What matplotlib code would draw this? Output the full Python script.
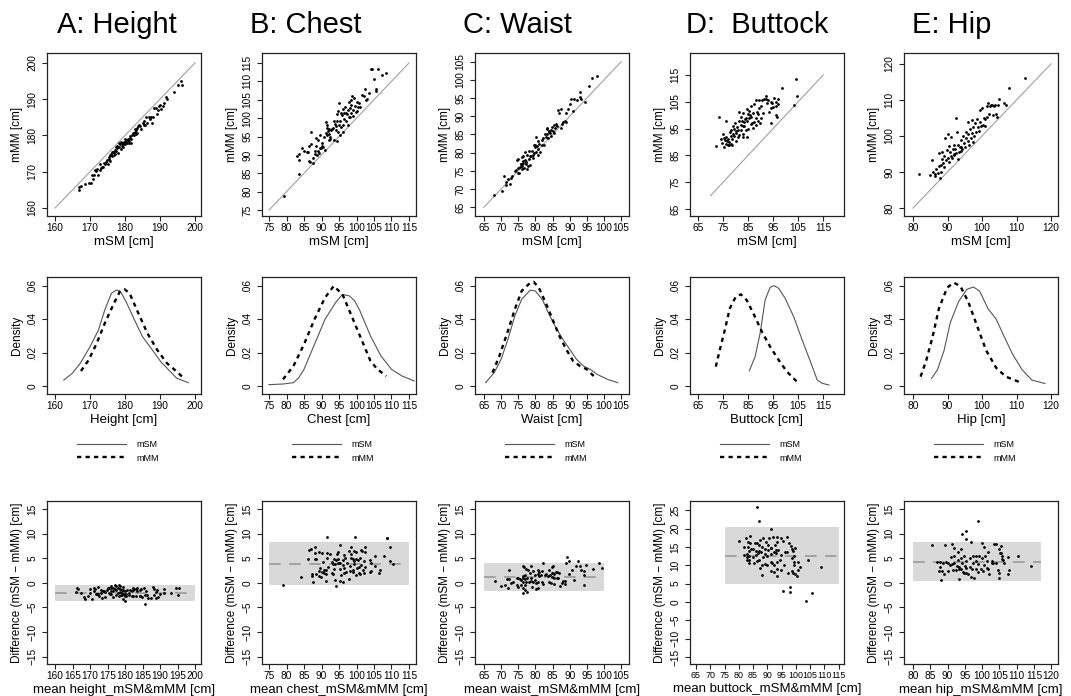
import matplotlib
matplotlib.use("Agg")
import matplotlib.pyplot as plt
import numpy as np

plt.rcParams['font.family'] = ['Liberation Sans', 'DejaVu Sans']

# column titles and measure names
titles = ['A: Height', 'B: Chest', 'C: Waist', 'D:  Buttock', 'E: Hip']
measures = ['Height', 'Chest', 'Waist', 'Buttock', 'Hip']

# scatter points (mSM, mMM)
height_points = np.array([
    (166.7, 165.7), (166.8, 165.0), (167.3, 166.0), (168.5, 166.5), (169.8, 167.0), (170.2, 167.0),
    (170.5, 169.2), (170.7, 168.0), (171.0, 169.0), (171.5, 170.5), (171.8, 170.2), (172.0, 170.7),
    (172.3, 169.0), (172.7, 170.5), (172.8, 172.0), (173.2, 171.0), (173.5, 171.3), (173.8, 171.2),
    (174.0, 172.5), (174.3, 172.2), (174.5, 172.8), (174.8, 173.2), (175.0, 172.0), (175.3, 173.5),
    (175.5, 174.0), (175.7, 174.6), (175.8, 173.0), (176.0, 175.0), (176.2, 175.5), (176.3, 174.3),
    (176.5, 175.5), (176.8, 174.5), (176.9, 175.3), (177.0, 176.0), (177.2, 175.0), (177.3, 176.8),
    (177.5, 175.8), (177.6, 177.0), (177.8, 176.5), (178.0, 175.2), (178.2, 176.8), (178.4, 177.9),
    (178.5, 177.5), (178.7, 176.2), (178.9, 178.2), (179.0, 177.0), (179.2, 178.0), (179.4, 177.6),
    (179.5, 176.8), (179.7, 178.3), (179.9, 179.0), (180.0, 177.5), (180.2, 178.8), (180.3, 178.2),
    (180.5, 178.0), (180.7, 179.0), (180.8, 178.6), (181.0, 177.8), (181.2, 178.5), (181.3, 179.8),
    (181.5, 179.3), (181.6, 178.9), (181.8, 178.0), (182.0, 180.0), (182.3, 180.8), (182.5, 180.0),
    (182.7, 181.0), (182.8, 181.8), (183.0, 181.5), (183.2, 180.5), (183.3, 182.0), (183.5, 180.8),
    (183.8, 182.5), (184.0, 183.0), (184.2, 182.6), (184.5, 181.8), (185.0, 183.5), (185.3, 184.0),
    (185.5, 182.8), (185.7, 183.0), (186.0, 185.0), (186.3, 183.5), (186.8, 185.2), (187.0, 184.5),
    (187.5, 185.0), (187.8, 183.5), (188.0, 185.0), (188.3, 187.5), (188.8, 187.5), (189.0, 186.0),
    (189.5, 187.0), (189.8, 188.0), (190.0, 188.5), (190.3, 187.3), (190.8, 188.0), (191.2, 189.0),
    (191.8, 190.5), (192.0, 190.0), (194.0, 192.0), (195.0, 194.0), (196.0, 195.0), (196.3, 193.8),
])

chest_points = np.array([
    (79.2, 78.8), (83.0, 89.7), (83.5, 90.3), (83.7, 88.5), (83.5, 84.7), (84.5, 91.8), (85.0, 91.0),
    (85.8, 90.7), (86.0, 90.8), (86.3, 92.5), (86.5, 88.3), (86.7, 88.0), (87.0, 96.2), (87.0, 93.0),
    (87.5, 87.7), (87.5, 89.2), (88.0, 91.0), (88.0, 90.3), (88.3, 92.5), (88.5, 94.5), (88.7, 90.0),
    (89.0, 91.2), (89.0, 94.0), (89.3, 90.5), (89.5, 92.0), (89.6, 95.5), (89.8, 91.8), (90.0, 92.5),
    (90.2, 93.3), (90.5, 92.2), (90.8, 95.0), (91.0, 91.3), (91.2, 96.0), (91.3, 99.0), (91.5, 97.3),
    (91.5, 95.3), (91.7, 98.0), (91.8, 96.5), (92.0, 94.0), (92.0, 95.8), (92.2, 97.0), (92.3, 95.0),
    (92.5, 94.2), (92.8, 96.8), (93.0, 97.0), (93.3, 97.3), (93.5, 94.0), (93.7, 99.3), (93.8, 98.5),
    (94.0, 96.8), (94.2, 97.8), (94.3, 99.3), (94.5, 101.0), (94.5, 93.8), (94.7, 96.3), (94.8, 102.0),
    (95.0, 98.0), (95.0, 104.2), (95.2, 95.5), (95.3, 99.3), (95.5, 97.5), (95.6, 101.5), (95.8, 100.8),
    (96.0, 102.5), (96.0, 98.2), (96.2, 96.3), (96.3, 99.8), (96.5, 101.3), (96.8, 103.0), (97.0, 99.3),
    (97.0, 101.5), (97.3, 101.2), (97.5, 102.3), (97.5, 98.2), (97.8, 100.3), (97.8, 104.5), (98.0, 100.2),
    (98.2, 102.8), (98.3, 104.8), (98.5, 101.5), (98.5, 103.5), (98.8, 106.0), (99.0, 102.2), (99.0, 100.5),
    (99.3, 105.5), (99.5, 103.2), (99.8, 101.8), (100.0, 104.5), (100.2, 102.0), (100.5, 103.0),
    (100.8, 104.0), (101.0, 103.0), (101.5, 106.2), (102.0, 106.0), (102.5, 108.0), (102.8, 105.0),
    (103.0, 105.3), (103.5, 106.8), (104.2, 113.3), (104.3, 113.3), (105.0, 110.5), (105.5, 108.0),
    (105.6, 107.5), (106.0, 113.3), (107.2, 111.7), (108.5, 112.3),
])

waist_points = np.array([
    (68.0, 68.3), (70.2, 69.5), (71.0, 73.5), (71.3, 72.0), (71.5, 71.0), (72.0, 72.8), (72.5, 71.5),
    (73.0, 73.0), (73.3, 73.5), (74.0, 75.0), (74.3, 75.3), (74.5, 78.0), (74.8, 74.3), (75.0, 78.2),
    (75.0, 75.8), (75.3, 74.5), (75.5, 76.0), (75.7, 77.0), (75.8, 76.8), (76.0, 75.5), (76.0, 78.8),
    (76.2, 76.3), (76.3, 77.8), (76.5, 77.3), (76.5, 79.0), (76.8, 75.8), (77.0, 80.3), (77.0, 78.0),
    (77.2, 76.8), (77.3, 77.5), (77.5, 75.5), (77.6, 79.5), (77.8, 76.3), (78.0, 78.2), (78.2, 80.5),
    (78.3, 79.2), (78.5, 76.7), (78.7, 79.0), (79.0, 80.5), (79.2, 79.3), (79.3, 78.5), (79.5, 82.0),
    (79.5, 80.0), (79.8, 81.5), (80.0, 82.2), (80.2, 84.3), (80.3, 80.3), (80.5, 81.8), (80.7, 79.5),
    (80.8, 81.0), (80.9, 83.2), (81.0, 82.5), (81.3, 80.3), (81.8, 82.0), (82.0, 83.5), (82.3, 84.0),
    (82.5, 82.2), (82.7, 85.2), (83.0, 84.3), (83.3, 86.5), (83.5, 85.0), (83.5, 86.8), (83.8, 84.0),
    (83.9, 85.8), (84.0, 86.0), (84.3, 85.5), (84.5, 84.5), (84.6, 86.3), (84.8, 87.0), (85.0, 86.0),
    (85.3, 87.5), (85.5, 85.3), (85.8, 86.8), (86.0, 88.0), (86.2, 87.2), (86.5, 91.7), (87.0, 91.0),
    (87.5, 92.0), (87.5, 86.8), (87.8, 87.8), (88.0, 88.3), (88.5, 88.8), (88.8, 88.5), (89.0, 90.8),
    (89.5, 92.0), (90.0, 93.5), (90.3, 94.8), (91.0, 91.5), (91.3, 94.8), (92.0, 94.5), (93.0, 95.3),
    (93.0, 96.7), (93.3, 94.8), (94.5, 94.0), (95.5, 98.3), (96.5, 100.5), (98.0, 101.0),
])

buttock_points = np.array([
    (72.0, 88.5), (73.5, 99.3), (74.0, 91.3), (74.5, 89.5), (75.0, 93.0), (75.3, 91.5), (75.5, 88.3),
    (75.8, 90.8), (76.0, 92.0), (76.0, 98.0), (76.3, 89.3), (76.5, 90.5), (76.8, 89.0), (77.0, 91.3),
    (77.3, 88.8), (77.5, 90.0), (77.8, 93.8), (78.0, 89.3), (78.0, 92.3), (78.3, 94.3), (78.5, 89.0),
    (78.7, 91.0), (79.0, 93.0), (79.0, 96.0), (79.3, 94.8), (79.5, 92.3), (79.8, 97.2), (80.0, 94.0),
    (80.0, 90.5), (80.3, 93.5), (80.5, 95.5), (80.8, 92.0), (81.0, 94.5), (81.3, 101.3), (81.5, 97.8),
    (81.5, 92.8), (82.0, 99.5), (82.0, 96.5), (82.3, 94.5), (82.5, 98.0), (82.8, 95.8), (82.8, 92.0),
    (83.0, 93.0), (83.0, 100.8), (83.3, 97.5), (83.5, 96.0), (83.8, 98.5), (84.0, 94.3), (84.0, 98.8),
    (84.5, 91.8), (84.5, 102.3), (84.7, 97.8), (85.0, 100.5), (85.0, 95.0), (85.3, 101.5), (85.5, 99.0),
    (85.8, 100.0), (86.0, 96.8), (86.0, 103.5), (86.3, 99.5), (86.5, 97.0), (86.8, 101.0), (87.0, 95.3),
    (87.3, 104.0), (87.5, 97.5), (88.0, 105.8), (88.0, 99.0), (88.3, 96.5), (88.5, 101.3), (88.8, 100.3),
    (89.0, 98.0), (89.3, 102.8), (89.5, 105.5), (89.8, 97.0), (90.0, 103.5), (90.3, 99.0), (90.5, 105.8),
    (91.0, 101.0), (91.5, 106.0), (92.0, 106.0), (92.3, 107.0), (92.5, 104.5), (93.0, 105.5), (94.0, 97.1),
    (93.5, 101.3), (94.0, 105.0), (94.3, 102.8), (94.5, 104.5), (95.0, 103.0), (95.5, 106.3), (96.0, 103.5),
    (96.3, 105.0), (96.6, 99.4), (96.0, 100.0), (96.8, 106.2), (97.0, 104.0), (98.5, 110.0), (103.5, 103.8),
    (104.0, 113.5), (104.5, 107.0),
])

hip_points = np.array([
    (81.8, 89.5), (85.0, 89.2), (85.5, 93.2), (85.8, 90.0), (86.3, 89.5), (86.5, 88.8), (86.8, 90.8),
    (87.3, 89.7), (87.5, 91.7), (87.5, 95.3), (87.8, 88.3), (88.0, 92.0), (88.2, 90.0), (88.3, 93.5),
    (88.5, 95.5), (88.8, 92.5), (89.0, 94.5), (89.0, 91.3), (89.3, 99.3), (89.5, 93.3), (89.8, 96.0),
    (90.0, 100.5), (90.0, 94.0), (90.3, 92.8), (90.5, 97.3), (90.8, 95.5), (91.0, 94.3), (91.0, 99.8),
    (91.3, 93.8), (91.5, 96.5), (91.8, 95.0), (92.0, 97.5), (92.0, 94.8), (92.3, 96.3), (92.5, 105.0),
    (92.5, 95.3), (92.8, 101.0), (93.0, 93.7), (93.0, 97.5), (93.3, 95.5), (93.5, 96.8), (93.8, 95.8),
    (94.0, 99.0), (94.0, 97.0), (94.3, 96.3), (94.5, 100.0), (94.8, 98.0), (95.0, 96.8), (95.3, 99.3),
    (95.5, 101.0), (95.8, 98.5), (96.0, 104.0), (96.0, 100.5), (96.3, 97.5), (96.5, 102.0), (96.8, 99.5),
    (97.0, 104.3), (97.0, 100.8), (97.3, 98.3), (97.5, 102.5), (97.8, 100.0), (98.0, 103.5), (98.3, 101.0),
    (98.5, 104.8), (98.8, 102.5), (99.0, 101.3), (99.3, 103.8), (99.5, 107.3), (99.8, 102.8), (100.0, 107.8),
    (100.3, 103.0), (100.5, 105.0), (100.8, 104.8), (101.0, 102.8), (101.3, 105.3), (101.5, 108.3),
    (101.8, 109.2), (102.0, 106.0), (102.3, 108.3), (102.5, 108.5), (103.0, 108.5), (103.3, 105.8),
    (103.5, 108.3), (103.8, 108.5), (104.0, 106.0), (104.3, 105.3), (104.5, 108.5), (105.0, 110.2),
    (106.5, 109.0), (106.8, 108.5), (107.8, 113.3), (112.5, 116.0),
])

# density curves (x, density)
height_dens_msm = np.array([(162.5, .0036), (164.9, .0076), (167.2, .0136), (170.0, .0236), (172.4, .0336),
                            (174.2, .0456), (176.1, .0556), (177.5, .0576), (178.7, .0566), (180.3, .0506),
                            (182.7, .0396), (185.0, .0296), (187.8, .0216), (190.2, .0146), (192.5, .0096),
                            (194.8, .0046), (198.1, .002)])
height_dens_mmm = np.array([(167.4, .009), (169.6, .0156), (171.9, .0256), (174.2, .0376), (176.6, .0486),
                            (178.5, .0566), (179.9, .058), (181.3, .0556), (183.6, .0446), (186.4, .0316),
                            (189.2, .0216), (192.0, .0136), (194.8, .0086), (196.3, .0056)])
chest_dens_msm = np.array([(75.0, .0008), (79.0, .0012), (82.0, .002), (83.5, .005), (85.0, .01), (88.0, .025),
                           (91.0, .04), (94.0, .05), (96.0, .055), (98.0, .054), (99.5, .051), (101.0, .045),
                           (104.0, .03), (107.0, .018), (110.0, .01), (113.0, .006), (116.5, .003)])
chest_dens_mmm = np.array([(79.0, .004), (82.0, .012), (85.0, .025), (88.0, .04), (91.0, .053), (93.5, .06),
                           (96.0, .055), (98.0, .045), (100.0, .035), (102.0, .025), (104.0, .015), (106.0, .01),
                           (108.5, .006)])
waist_dens_msm = np.array([(65.5, .002), (68.0, .008), (70.0, .016), (72.0, .028), (74.0, .042), (76.0, .052),
                           (78.5, .0575), (80.0, .057), (82.0, .052), (84.0, .043), (86.0, .035), (88.0, .028),
                           (90.0, .022), (92.0, .016), (94.0, .012), (96.0, .01), (98.0, .007), (101.0, .004),
                           (104.0, .002)])
waist_dens_mmm = np.array([(67.5, .008), (69.5, .018), (72.0, .033), (74.0, .046), (76.0, .057), (78.0, .061),
                           (79.5, .0625), (81.0, .059), (83.0, .05), (85.0, .04), (87.0, .03), (89.0, .022),
                           (91.0, .015), (93.0, .012), (95.0, .01), (97.0, .006)])
buttock_dens_msm = np.array([(85.5, .0092), (87.8, .0176), (89.8, .0316), (91.8, .0516), (93.8, .0592),
                             (95.4, .0602), (97.2, .0586), (99.8, .0526), (103.2, .0416), (106.6, .0276),
                             (109.9, .0146), (112.6, .0036), (114.6, .0016), (117.3, .0006)])
buttock_dens_mmm = np.array([(72.1, .0116), (73.7, .0216), (75.7, .0336), (77.7, .0466), (80.1, .0536),
                             (82.1, .055), (84.4, .0516), (87.1, .0436), (90.5, .0326), (93.8, .0236),
                             (97.2, .0156), (100.5, .0086), (104.5, .0026)])
hip_dens_msm = np.array([(85.4, .0046), (87.1, .0098), (89.0, .0213), (90.8, .038), (93.2, .0506), (95.6, .058),
                         (97.5, .0594), (99.3, .057), (101.7, .0465), (104.1, .0401), (106.4, .0297),
                         (108.8, .0192), (111.6, .0098), (114.4, .0036), (118.2, .0015)])
hip_dens_mmm = np.array([(82.2, .0056), (83.8, .015), (85.7, .0297), (87.5, .0464), (89.9, .059), (91.8, .062),
                         (93.7, .06), (96.0, .0506), (98.4, .037), (101.2, .0213), (104.1, .0109), (106.9, .0056),
                         (110.7, .0025), (111.5, .002)])

# agreement limits
ba_bias = [-2.1, 3.85, 1.2, 12.6, 4.3]
ba_lower = [-3.7, -0.5, -1.6, 5.0, 0.3]
ba_upper = [-0.5, 8.2, 4.0, 20.3, 8.2]
band_start = [160, 75, 65, 75, 80]
band_end = [200, 115, 100, 115, 117]
identity_range = [(160, 200), (75, 115), (65, 105), (70, 115), (80, 120)]

points = [height_points, chest_points, waist_points, buttock_points, hip_points]
dens_msm = [height_dens_msm, chest_dens_msm, waist_dens_msm, buttock_dens_msm, hip_dens_msm]
dens_mmm = [height_dens_mmm, chest_dens_mmm, waist_dens_mmm, buttock_dens_mmm, hip_dens_mmm]

# axis settings per column
xlims = [(157.7, 201.7), (73, 117), (62.4, 107.3), (61.8, 123.3), (77.4, 122)]
ylims = [(157.8, 202.7), (73.4, 117.7), (62.6, 107.4), (62.4, 123.2), (77.8, 123)]
scatter_ticks = [np.arange(160, 201, 10), np.arange(75, 116, 5), np.arange(65, 106, 5),
                 np.arange(65, 116, 10), np.arange(80, 121, 10)]
ba_xticks = [np.arange(160, 201, 5), np.arange(75, 116, 5), np.arange(65, 106, 5),
             np.arange(65, 116, 5), np.arange(80, 121, 5)]
ba_xlims = [xlims[0], xlims[1], xlims[2], (62.9, 116.9), xlims[4]]
col_left = [47, 262, 475, 690, 904]
title_x = [117, 306, 517, 757, 952]

W, H = 1071, 696
fig = plt.figure(figsize=(W / 100, H / 100), dpi=100)


def add_axes(left, top, width, height):
    return fig.add_axes([left / W, 1 - (top + height) / H, width / W, height / H])


def style(ax, xsize=7.3):
    for s in ax.spines.values():
        s.set_linewidth(0.9)
        s.set_color('#222222')
    ax.tick_params(direction='out', length=3.5, width=0.8, labelsize=7.3, color='#222222')
    ax.tick_params(axis='x', pad=1.5, labelsize=xsize)
    ax.tick_params(axis='y', pad=3.5)
    for lab in ax.get_yticklabels():
        lab.set_rotation(90)
        lab.set_va('center')


for i in range(5):
    left = col_left[i]
    pts = points[i]
    msm, mmm = pts[:, 0], pts[:, 1]

    # row 1: scatter with identity line
    ax = add_axes(left, 53, 154, 163)
    ax.plot(identity_range[i], identity_range[i], color='#a0a0a0', lw=0.8)
    ax.plot(msm, mmm, 'o', ms=2.0, mew=0, color='black')
    ax.set_xlim(xlims[i])
    ax.set_ylim(ylims[i])
    ax.set_xticks(scatter_ticks[i])
    ax.set_yticks(scatter_ticks[i])
    ax.set_xlabel('mSM [cm]', fontsize=9.5, labelpad=2)
    ax.set_ylabel('mMM [cm]', fontsize=8.5, labelpad=3)
    style(ax)

    # row 2: density curves
    ax = add_axes(left, 277, 154, 117)
    l1, = ax.plot(dens_msm[i][:, 0], dens_msm[i][:, 1], color='#555555', lw=0.8)
    l2, = ax.plot(dens_mmm[i][:, 0], dens_mmm[i][:, 1], color='black', lw=1.7, ls=(0, (1.8, 1.8)))
    ax.set_xlim(xlims[i])
    ax.set_ylim(-0.0048, 0.0654)
    ax.set_xticks(scatter_ticks[i])
    ax.set_yticks([0, 0.02, 0.04, 0.06], ['0', '.02', '.04', '.06'])
    ax.set_xlabel(measures[i] + ' [cm]', fontsize=9.5, labelpad=2)
    ax.set_ylabel('Density', fontsize=8.5, labelpad=3)
    style(ax)
    ax.legend([l1, l2], ['mSM', 'mMM'], loc='center', bbox_to_anchor=(0.46, -0.49),
              frameon=False, fontsize=6.5, handlelength=5.4, handletextpad=1.1, labelspacing=0.5)

    # row 3: Bland-Altman
    ax = add_axes(left, 501, 154, 163)
    diff = mmm - msm
    mean = (msm + mmm) / 2
    ax.fill_between([band_start[i], band_end[i]], ba_lower[i], ba_upper[i], color='#d9d9d9', lw=0)
    ax.plot([band_start[i], band_end[i]], [ba_bias[i], ba_bias[i]], color='#9a9a9a', lw=1.2, ls=(0, (7, 5)))
    ax.plot(mean, diff, 'o', ms=2.0, mew=0, color='black')
    ax.set_xlim(ba_xlims[i])
    if i == 3:
        ax.set_ylim(-16.9, 27.5)
        ax.set_yticks(np.arange(-15, 26, 5))
    else:
        ax.set_ylim(-16.5, 16.6)
        ax.set_yticks(np.arange(-15, 16, 5))
    ax.set_xticks(ba_xticks[i])
    ax.set_xlabel('mean ' + measures[i].lower() + '_mSM&mMM [cm]', fontsize=9.5, labelpad=2)
    ax.set_ylabel('Difference (mSM \u2212 mMM) [cm]', fontsize=8.5, labelpad=3)
    style(ax, xsize=6.4 if i == 3 else 7.3)

    fig.text(title_x[i] / W, 1 - 25 / H, titles[i], fontsize=21, ha='center', va='center')

fig.savefig('out.png', dpi=100)
